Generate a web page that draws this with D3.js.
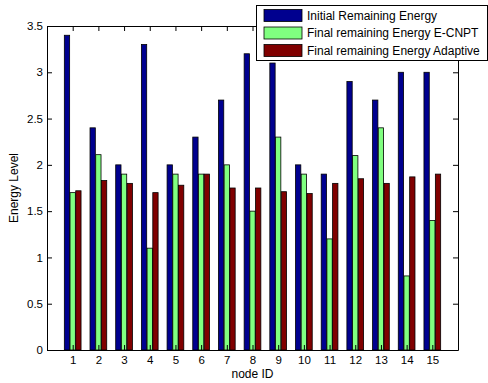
<!DOCTYPE html>
<html>
<head>
<style>
  body { margin:0; background:#fff; }
  svg text { font-family: "Liberation Sans", Arial, sans-serif; font-size: 12px; fill:#000; }
</style>
</head>
<body>
<div id="chart"></div>
<script src="https://d3js.org/d3.v7.min.js"></script>
<script>
// node IDs and the three energy series
var nodes = [1,2,3,4,5,6,7,8,9,10,11,12,13,14,15];
var initialEnergy  = [3.4, 2.4, 2.0, 3.3, 2.0, 2.3, 2.7, 3.2, 3.1, 2.0, 1.9, 2.9, 2.7, 3.0, 3.0];
var ecnptEnergy    = [1.7, 2.11, 1.9, 1.1, 1.9, 1.9, 2.0, 1.5, 2.3, 1.9, 1.2, 2.1, 2.4, 0.8, 1.4];
var adaptiveEnergy = [1.72, 1.83, 1.8, 1.7, 1.78, 1.9, 1.75, 1.75, 1.71, 1.69, 1.8, 1.85, 1.8, 1.87, 1.9];
var seriesNames = ["Initial Remaining Energy", "Final remaining Energy E-CNPT", "Final remaining Energy Adaptive"];
var colors = ["#00008f", "#80ff80", "#800000"];
var yTicks = [0, 0.5, 1, 1.5, 2, 2.5, 3, 3.5];

var W = 488, H = 383;
var mLeft = 47, mRight = 458, mTop = 26, mBottom = 350;

var svg = d3.select("#chart").append("svg").attr("width", W).attr("height", H);

var x = d3.scaleLinear().domain([0, 16]).range([mLeft, mRight]);
var y = d3.scaleLinear().domain([0, 3.5]).range([mBottom, mTop]);

var series = [initialEnergy, ecnptEnergy, adaptiveEnergy];
var slot = (x(1) - x(0)) * 0.222;
var barW = slot * 0.93;

series.forEach(function(vals, s) {
    svg.append("g").selectAll("rect")
        .data(vals)
        .enter().append("rect")
        .attr("x", function(d, i) { return x(nodes[i]) + (s - 1.5) * slot + (slot - barW) / 2; })
        .attr("y", function(d) { return y(d); })
        .attr("width", barW)
        .attr("height", function(d) { return mBottom - y(d); })
        .style("fill", colors[s])
        .style("stroke", "#000")
        .style("stroke-width", 0.8);
});

// box axes, ticks pointing inward
var axB = d3.axisBottom(x).tickValues(nodes).tickSizeInner(-5).tickSizeOuter(0).tickPadding(6);
var axT = d3.axisTop(x).tickValues(nodes).tickSizeInner(-5).tickSizeOuter(0).tickFormat("");
var axL = d3.axisLeft(y).tickValues(yTicks).tickSizeInner(-5).tickSizeOuter(0).tickPadding(4).tickFormat(d3.format("~g"));
var axR = d3.axisRight(y).tickValues(yTicks).tickSizeInner(-5).tickSizeOuter(0).tickFormat("");

svg.append("g").attr("transform", "translate(0," + mBottom + ")").call(axB);
svg.append("g").attr("transform", "translate(0," + mTop + ")").call(axT);
svg.append("g").attr("transform", "translate(" + mLeft + ",0)").call(axL);
svg.append("g").attr("transform", "translate(" + mRight + ",0)").call(axR);
svg.selectAll(".domain, .tick line").style("stroke", "#000").style("stroke-width", 1);
svg.selectAll(".tick text").style("font-size", "11.5px").style("font-family", "Liberation Sans, Arial, sans-serif");

svg.append("text").attr("x", (mLeft + mRight) / 2).attr("y", 378).attr("text-anchor", "middle").text("node ID");
svg.append("text").attr("transform", "translate(18," + ((mTop + mBottom) / 2) + ") rotate(-90)")
    .attr("text-anchor", "middle").text("Energy Level");

// legend
var lg = svg.append("g");
lg.append("rect").attr("x", 256.5).attr("y", 5.5).attr("width", 231).attr("height", 55)
    .style("fill", "#fff").style("stroke", "#000");
seriesNames.forEach(function(name, i) {
    var cy = 15.5 + i * 17.5;
    lg.append("rect").attr("x", 264).attr("y", cy - 6).attr("width", 38).attr("height", 12)
        .style("fill", colors[i]).style("stroke", "#000").style("stroke-width", 0.8);
    lg.append("text").attr("x", 307).attr("y", cy + 4).text(name);
});
</script>
</body>
</html>
